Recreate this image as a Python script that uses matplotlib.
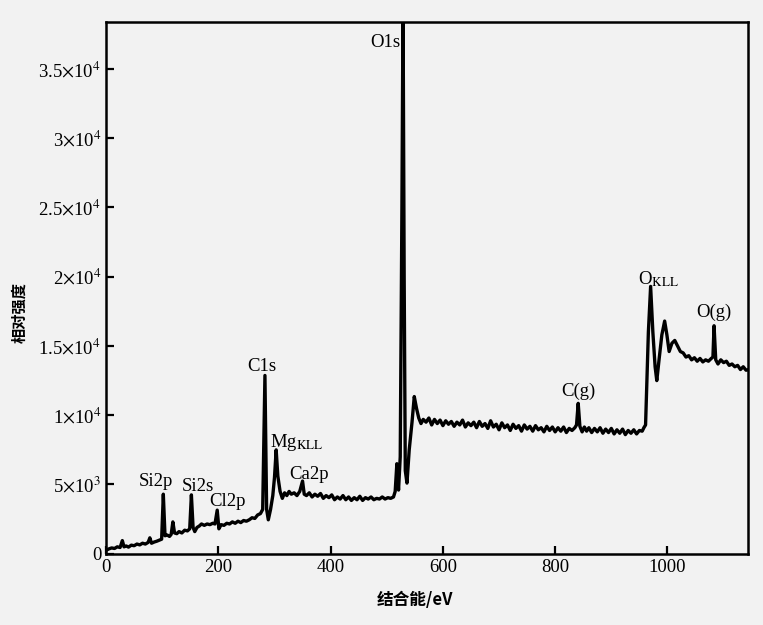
import matplotlib.pyplot as plt

plt.rcParams['font.family'] = ['Liberation Serif', 'Noto Sans CJK SC', 'DejaVu Sans']
plt.rcParams['mathtext.fontset'] = 'stix'

# binding energy (eV) and counts
energy = [0, 5, 10, 15, 20, 25, 29, 32, 36, 40, 45, 50, 55, 60, 65, 70, 75, 78, 81, 86,
          90, 95, 99, 102, 105, 109, 113, 116, 119, 122, 126, 130, 135, 140, 145, 149, 152, 155, 158, 162,
          166, 170, 175, 180, 185, 190, 194, 198, 201, 205, 210, 215, 220, 225, 230, 235, 240, 245, 250, 255,
          260, 265, 270, 275, 279, 283, 286, 289, 293, 297, 300, 303, 306, 310, 314, 318, 322, 326, 330, 335,
          340, 345, 350, 353, 357, 362, 367, 372, 377, 382, 387, 392, 397, 402, 407, 412, 417, 422, 427, 432,
          437, 442, 447, 452, 457, 462, 467, 472, 477, 482, 487, 492, 497, 502, 507, 512, 515, 518, 521, 524,
          527, 529, 531, 533, 536, 540, 545, 549, 553, 557, 561, 565,
          570, 575, 580, 585, 590, 595, 600, 605, 610, 615, 620, 625, 630, 635, 640, 645, 650, 655, 660, 665,
          670, 675, 680, 685, 690, 695, 700, 705, 710, 715, 720, 725, 730, 735, 740, 745, 750, 755, 760, 765,
          770, 775, 780, 785, 790, 795, 800, 805, 810, 815, 820, 825, 830, 835, 838, 841, 844, 848, 852, 856,
          860, 865, 870, 875, 880, 885, 890, 895, 900, 905, 910, 915, 920, 925, 930, 935, 940, 945, 950, 955,
          958, 961, 963, 966, 970, 974, 978, 981, 985, 990, 995, 999, 1003, 1008, 1013, 1018, 1023, 1028, 1033, 1038,
          1043, 1048, 1053, 1058, 1063, 1068, 1073, 1078, 1081, 1083, 1086, 1090, 1095, 1100, 1105, 1110, 1115, 1120, 1125, 1130,
          1135, 1140, 1145]
counts = [250, 350, 420, 380, 500, 450, 950, 500, 560, 480, 620, 580, 700, 640, 760, 700, 820, 1150, 760, 850,
          900, 980, 1050, 4300, 1300, 1350, 1250, 1400, 2300, 1500, 1450, 1600, 1500, 1700, 1650, 1800, 4250, 1900, 1600, 1900,
          2000, 2150, 2050, 2150, 2100, 2200, 2150, 3150, 1800, 2100, 2050, 2200, 2150, 2300, 2200, 2350, 2250, 2400, 2350, 2450,
          2600, 2550, 2800, 2900, 3200, 12870, 3200, 2450, 3200, 4200, 5500, 7500, 5600, 4500, 4000, 4400, 4200, 4500, 4300, 4400,
          4200, 4500, 5250, 4300, 4200, 4400, 4100, 4300, 4150, 4350, 4000, 4200, 4050, 4250, 3900, 4100, 3950, 4200, 3900, 4100,
          3850, 4050, 3900, 4150, 3850, 4050, 3950, 4100, 3900, 4000, 3950, 4100, 3950, 4050, 4000, 4100, 4500, 6500, 4600, 7000,
          25000, 40000, 20000, 6000, 5100, 7500, 9500, 11350, 10500, 9800, 9400, 9700,
          9500, 9800, 9300, 9700, 9400, 9650, 9250, 9600, 9350, 9550, 9200, 9500, 9300, 9650, 9150, 9450, 9250, 9500, 9100, 9550,
          9200, 9400, 9050, 9600, 9150, 9350, 8950, 9450, 9100, 9300, 8900, 9350, 9050, 9250, 8850, 9300, 9000, 9200, 8850, 9250,
          8950, 9100, 8800, 9200, 8900, 9150, 8800, 9100, 8850, 9150, 8750, 9050, 8900, 9100, 9300, 10860, 9200, 8800, 9150, 8850,
          9100, 8750, 9050, 8800, 9100, 8700, 9000, 8750, 9050, 8650, 8950, 8700, 9000, 8600, 8900, 8700, 8950, 8650, 8900, 8850,
          9100, 9300, 12000, 16000, 19300, 16000, 13500, 12500, 14000, 15800, 16800, 15800, 14600, 15200, 15400, 15000, 14600, 14500, 14200, 14300,
          14000, 14150, 13900, 14100, 13850, 14000, 13900, 14100, 14200, 16460, 14000, 13700, 14000, 13800, 13900, 13600, 13700, 13500, 13600, 13300,
          13500, 13250, 13300]

peak_labels = ['O1s', 'C1s', r'Mg$_{\rm KLL}$', 'Ca2p', 'Si2p', 'Si2s', 'Cl2p', 'C(g)', r'O$_{\rm KLL}$', 'O(g)']
label_x = [497, 278, 340, 362, 89, 163, 216, 841, 985, 1083]
label_y = [36900, 13500, 8000, 5700, 5200, 4850, 3800, 11750, 19800, 17400]

yticks = [0, 5000, 10000, 15000, 20000, 25000, 30000, 35000]
ytick_labels = ['0', r'5$\times$10$^3$', r'1$\times$10$^4$', r'1.5$\times$10$^4$', r'2$\times$10$^4$',
                r'2.5$\times$10$^4$', r'3$\times$10$^4$', r'3.5$\times$10$^4$']
xticks = [0, 200, 400, 600, 800, 1000]

fig = plt.figure(figsize=(7.63, 6.25), dpi=100, facecolor='#f2f2f2')
ax = fig.add_axes([0.139, 0.114, 0.841, 0.851])
ax.set_facecolor('#f2f2f2')

ax.plot(energy, counts, color='black', lw=2.4)

for lab, x, y in zip(peak_labels, label_x, label_y):
    ax.text(x, y, lab, ha='center', va='center', fontsize=13.5)

ax.set_xlim(0, 1143)
ax.set_ylim(0, 38400)
ax.set_xticks(xticks)
ax.set_yticks(yticks)
ax.set_yticklabels(ytick_labels)
ax.tick_params(direction='in', length=6, width=1.6, labelsize=13.5, top=False, right=False)
for s in ax.spines.values():
    s.set_linewidth(1.8)

fig.text(0.544, 0.04, '结合能/eV', ha='center', va='center', fontsize=12, fontweight='bold',
         family=['Noto Sans CJK SC', 'DejaVu Sans'])
fig.text(0.026, 0.5, '相对强度', ha='center', va='center', rotation=90, fontsize=11, fontweight='bold',
         family=['Noto Sans CJK SC', 'DejaVu Sans'])

fig.savefig('out.png', dpi=100, facecolor=fig.get_facecolor())
